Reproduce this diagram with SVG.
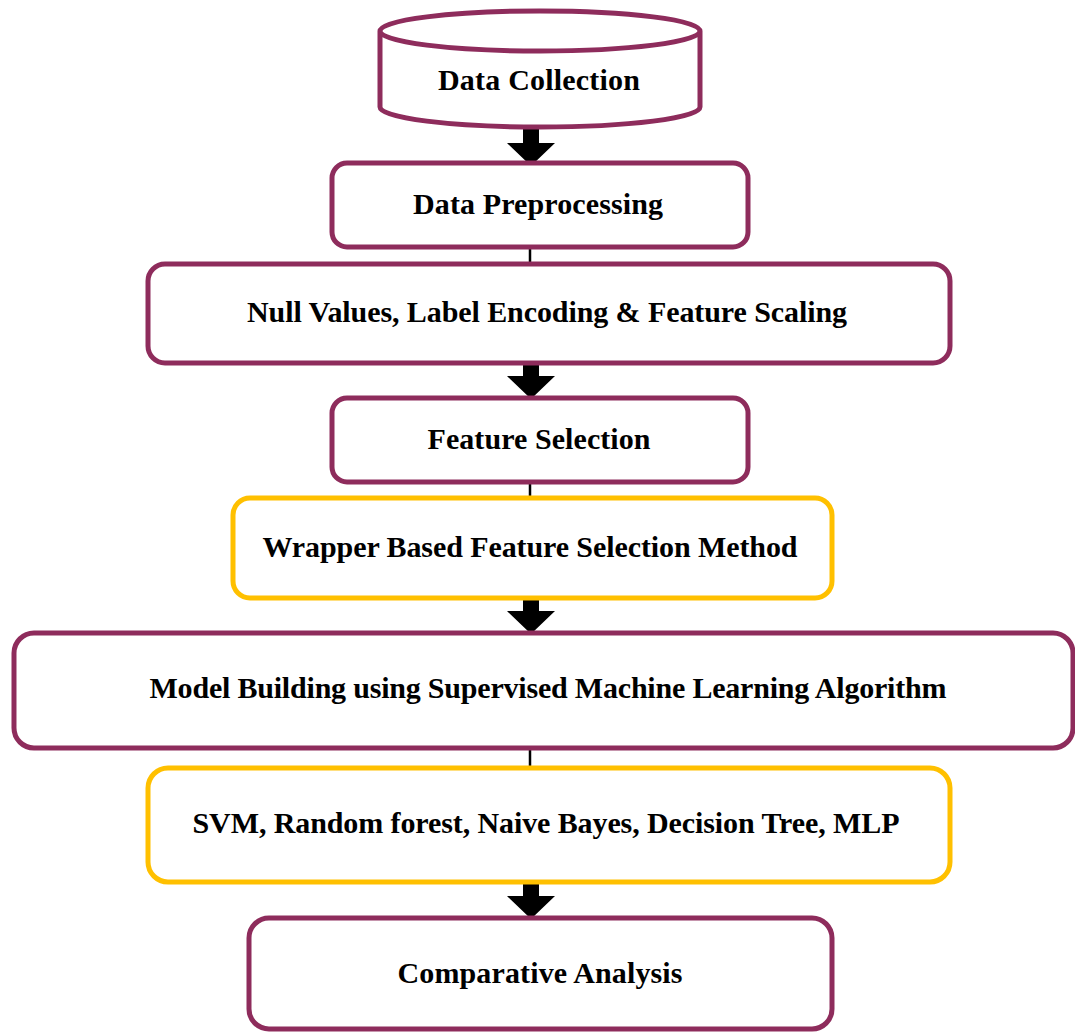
<svg xmlns="http://www.w3.org/2000/svg" width="1075" height="1032" viewBox="0 0 1075 1032">
<style>
.m{fill:#fff;stroke:#8E2C5C;stroke-width:5}
.o{fill:#fff;stroke:#FFC000;stroke-width:5}
.t{font-family:"Liberation Serif","Times New Roman",serif;font-weight:bold;font-size:30px;fill:#000}
.ln{stroke:#000;stroke-width:2.5;fill:none}
.ar{fill:#000}
</style>
<defs>
<path id="blk" d="M-8,0 H8 V18 H24 L0,41 L-24,18 H-8 Z"/>
</defs>
<rect width="1075" height="1032" fill="#fff"/>
<g id="connectors">
<use href="#blk" class="ar" x="531" y="125"/>
<line class="ln" x1="530" y1="247" x2="530" y2="264"/>
<use href="#blk" class="ar" x="531" y="358"/>
<line class="ln" x1="530" y1="482" x2="530" y2="498"/>
<use href="#blk" class="ar" x="531" y="593"/>
<line class="ln" x1="530" y1="748" x2="530" y2="768"/>
<use href="#blk" class="ar" x="531" y="878"/>
</g>
<g id="data-collection">
<path class="m" d="M380,31 V107 A160,20 0 0 0 700,107 V31 A160,20 0 0 0 380,31 A160,20 0 0 0 700,31"/>
<text class="t" x="539" y="90" text-anchor="middle" textLength="202" lengthAdjust="spacing">Data Collection</text>
</g>
<g id="data-preprocessing">
<rect class="m" x="332" y="163" width="416" height="84" rx="15"/>
<text class="t" x="538" y="214" text-anchor="middle" textLength="250" lengthAdjust="spacing">Data Preprocessing</text>
</g>
<g id="null-values">
<rect class="m" x="148" y="264" width="802" height="99" rx="17"/>
<text class="t" x="547" y="322" text-anchor="middle" textLength="600" lengthAdjust="spacing">Null Values, Label Encoding &amp; Feature Scaling</text>
</g>
<g id="feature-selection">
<rect class="m" x="332" y="398" width="416" height="84" rx="15"/>
<text class="t" x="539" y="449" text-anchor="middle" textLength="223" lengthAdjust="spacing">Feature Selection</text>
</g>
<g id="wrapper">
<rect class="o" x="233" y="498" width="599" height="100" rx="17"/>
<text class="t" x="530" y="557" text-anchor="middle" textLength="535" lengthAdjust="spacing">Wrapper Based Feature Selection Method</text>
</g>
<g id="model-building">
<rect class="m" x="14" y="633" width="1059" height="115" rx="20"/>
<text class="t" x="548" y="698" text-anchor="middle" textLength="797" lengthAdjust="spacing">Model Building using Supervised Machine Learning Algorithm</text>
</g>
<g id="algorithms">
<rect class="o" x="148" y="768" width="802" height="114" rx="20"/>
<text class="t" x="546" y="833" text-anchor="middle" textLength="707" lengthAdjust="spacing">SVM, Random forest, Naive Bayes, Decision Tree, MLP</text>
</g>
<g id="comparative-analysis">
<rect class="m" x="249" y="918" width="583" height="111" rx="20"/>
<text class="t" x="540" y="983" text-anchor="middle" textLength="285" lengthAdjust="spacing">Comparative Analysis</text>
</g>
</svg>
